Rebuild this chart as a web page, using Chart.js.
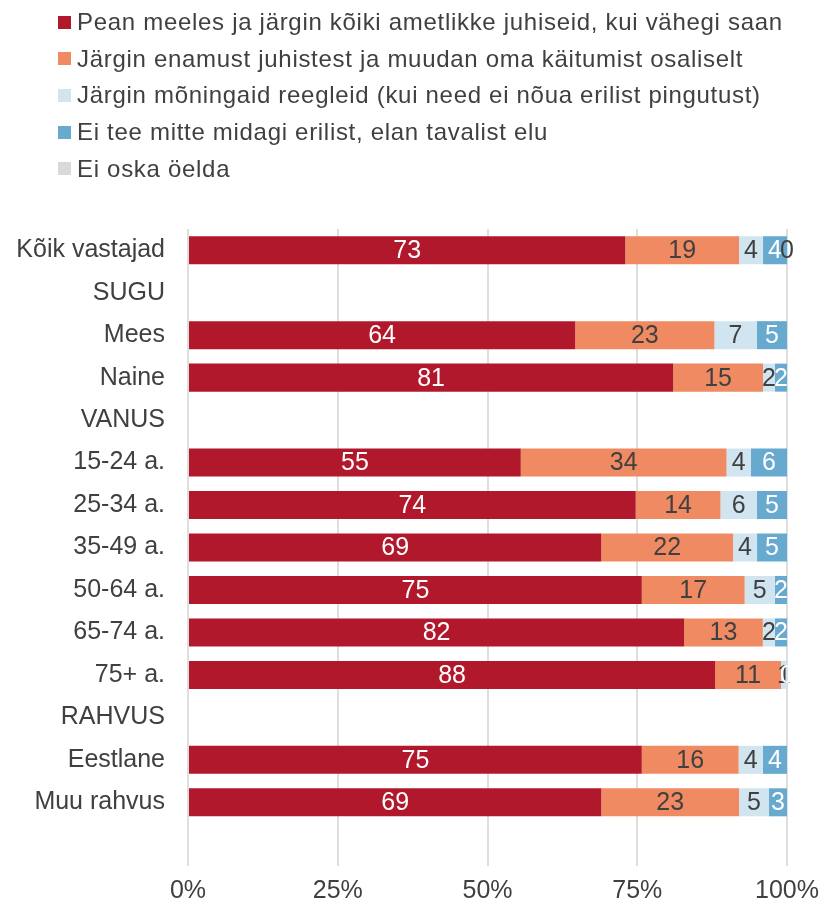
<!DOCTYPE html>
<html>
<head>
<meta charset="utf-8">
<script src="https://cdn.jsdelivr.net/npm/chart.js@4/dist/chart.umd.min.js"></script>
<style>
  body { margin: 0; background: #fff; font-family: "Liberation Sans", Arial, sans-serif; }
  #wrap { position: relative; width: 820px; height: 908px; }
  #barChart { position: absolute; left: 0; top: 0; }
  #legend { position: absolute; left: 58px; top: 4px; }
  .item { height: 36.6px; display: flex; align-items: center; font-size: 24px; letter-spacing: 0.7px; color: #404040; white-space: nowrap; }
  .sw { width: 13px; height: 13px; margin-right: 6px; }
</style>
</head>
<body>
<div id="wrap">
  <canvas id="barChart" width="820" height="908"></canvas>
  <div id="legend"></div>
</div>
<script>
const categories = ["Kõik vastajad", "SUGU", "Mees", "Naine", "VANUS", "15-24 a.", "25-34 a.",
  "35-49 a.", "50-64 a.", "65-74 a.", "75+ a.", "RAHVUS", "Eestlane", "Muu rahvus", ""];

const followAll  = [73, null, 64, 81, null, 55, 74, 69, 75, 82, 88, null, 75, 69, null];
const followMost = [19, null, 23, 15, null, 34, 14, 22, 17, 13, 11, null, 16, 23, null];
const followSome = [4, null, 7, 2, null, 4, 6, 4, 5, 2, 1, null, 4, 5, null];
const doNothing  = [4, null, 5, 2, null, 6, 5, 5, 2, 2, 0, null, 4, 3, null];
const cantSay    = [0, null, null, null, null, null, null, null, null, null, null, null, null, null, null];

const seriesNames = [
  "Pean meeles ja järgin kõiki ametlikke juhiseid, kui vähegi saan",
  "Järgin enamust juhistest ja muudan oma käitumist osaliselt",
  "Järgin mõningaid reegleid (kui need ei nõua erilist pingutust)",
  "Ei tee mitte midagi erilist, elan tavalist elu",
  "Ei oska öelda"
];
const seriesValues = [followAll, followMost, followSome, doNothing, cantSay];
const colors = ["#b2182b", "#ef8a62", "#d1e5f0", "#67a9cf", "#d9d9d9"];
const labelColors = ["#ffffff", "#404040", "#404040", "#ffffff", "#404040"];

const FONT = "'Liberation Sans', Arial, sans-serif";

// each row is stretched to 100%
const rowSums = categories.map((c, j) =>
  seriesValues.reduce((s, arr) => s + (arr[j] || 0), 0));

const datasets = seriesValues.map((arr, i) => ({
  label: seriesNames[i],
  raw: arr,
  data: arr.map((v, j) => (v === null || rowSums[j] === 0) ? null : v / rowSums[j] * 100),
  backgroundColor: colors[i],
  barPercentage: 0.66,
  categoryPercentage: 1
}));

// numbers inside the bars
const barLabels = {
  id: "barLabels",
  afterDatasetsDraw(chart) {
    const ctx = chart.ctx;
    ctx.save();
    ctx.font = "25px " + FONT;
    ctx.textAlign = "center";
    ctx.textBaseline = "middle";
    chart.data.datasets.forEach((ds, i) => {
      chart.getDatasetMeta(i).data.forEach((bar, j) => {
        const v = ds.raw[j];
        if (v === null || v === undefined) return;
        ctx.fillStyle = labelColors[i];
        ctx.fillText(String(v), (bar.x + bar.base) / 2, bar.y + 1);
      });
    });
    ctx.restore();
  }
};

const ctxBar = document.getElementById("barChart").getContext("2d");
const barChart = new Chart(ctxBar, {
  type: "bar",
  data: { labels: categories, datasets: datasets },
  plugins: [barLabels],
  options: {
    indexAxis: "y",
    responsive: false,
    animation: false,
    layout: { padding: { top: 229, right: 33, bottom: 0, left: 0 } },
    plugins: {
      legend: { display: false },
      tooltip: { enabled: false }
    },
    scales: {
      x: {
        stacked: true,
        min: 0,
        max: 100,
        afterFit: (s) => { s.height = 42; s.paddingLeft = 0; s.paddingRight = 0; },
        grid: { color: "#dedede", lineWidth: 2, drawTicks: false },
        border: { display: false },
        ticks: {
          stepSize: 25,
          padding: 10,
          color: "#404040",
          font: { family: FONT, size: 25 },
          callback: (v) => v + "%"
        }
      },
      y: {
        stacked: true,
        afterFit: (s) => { s.width = 188; s.paddingTop = 0; s.paddingBottom = 0; },
        grid: { display: false, drawTicks: false },
        border: { display: false },
        ticks: {
          padding: 23,
          color: "#404040",
          font: { family: FONT, size: 25 },
          autoSkip: false
        }
      }
    }
  }
});

// legend, one entry per line
const legendBox = document.getElementById("legend");
barChart.data.datasets.forEach((ds) => {
  const row = document.createElement("div");
  row.className = "item";
  const sw = document.createElement("span");
  sw.className = "sw";
  sw.style.background = ds.backgroundColor;
  const txt = document.createElement("span");
  txt.textContent = ds.label;
  row.appendChild(sw);
  row.appendChild(txt);
  legendBox.appendChild(row);
});
</script>
</body>
</html>
